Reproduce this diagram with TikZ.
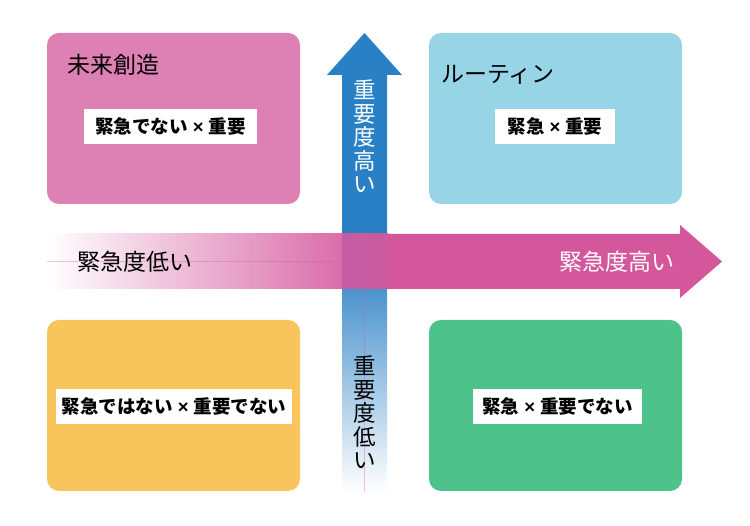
\documentclass[tikz,border=0pt]{standalone}
\usepackage{fontspec}
\setmainfont{Noto Sans CJK JP}
\newfontfamily\latinsans{Liberation Sans}
\newcommand{\qtimes}{\hspace{5pt}{\latinsans\bfseries ×}\hspace{5pt}}
\definecolor{qpink}{HTML}{DD80B4}
\definecolor{qblue}{HTML}{97D5E6}
\definecolor{qyellow}{HTML}{F8C55C}
\definecolor{qgreen}{HTML}{4DC28B}
\definecolor{arrpink}{HTML}{D4579C}
\definecolor{arrblue}{HTML}{2A80C5}
\definecolor{overlapl}{HTML}{C45DA4}
\definecolor{overlapr}{HTML}{CB5A9E}
\tikzset{
  quad/.style={rounded corners=12pt, draw=none},
  tag/.style={fill=white, inner sep=0pt, minimum height=35pt, font=\bfseries\fontsize{18.5}{20}\selectfont, text=black},
  title/.style={anchor=west, inner sep=0pt, font=\fontsize{23}{25}\selectfont, text=black},
  axislabel/.style={inner sep=0pt, font=\fontsize{23}{25}\selectfont},
  vlabel/.style={inner sep=0pt, align=center, font=\fontsize{22.5}{23.6}\selectfont},
  guide/.style={draw=arrpink, draw opacity=0.35, line width=0.6pt}
}
\begin{document}
\begin{tikzpicture}[x=1pt,y=1pt]
\useasboundingbox (0,0) rectangle (750,526);
% quadrant boxes
\fill[quad, qpink] (47,322) rectangle (300,493);
\fill[quad, qblue] (429,322) rectangle (682,493);
\fill[quad, qyellow] (47,35) rectangle (300,206);
\fill[quad, qgreen] (429,35) rectangle (682,206);
% vertical arrow
\fill[arrblue] (342,237) -- (342,451) -- (327,451) -- (364.5,493) -- (402,451) -- (387,451) -- (387,237) -- cycle;
\shade[top color=arrblue!85!white, bottom color=white] (342,34) rectangle (387,238);
\draw[guide] (364.5,237) -- (364.5,34);
% horizontal arrow
\fill[arrpink] (386,237) -- (680,237) -- (680,228) -- (722,264.5) -- (680,301) -- (680,292) -- (386,292) -- cycle;
\shade[left color=white, right color=arrpink] (47,237) rectangle (388,292);
\shade[left color=overlapl, right color=overlapr] (342,237) rectangle (387,292);
\draw[guide] (47,264.5) -- (342,264.5);
% axis labels
\node[axislabel, text=black] (ulow) at (134.5,264) {緊急度低い};
\node[axislabel, text=white] (uhigh) at (617,264) {緊急度高い};
\node[vlabel, text=white] (ihigh) at (364.5,389.5) {重\\要\\度\\高\\い};
\node[vlabel, text=black] (ilow) at (364.5,113.5) {重\\要\\度\\低\\い};
% titles
\node[title] (t1) at (67,461) {未来創造};
\node[title] (t2) at (441,451) {ルーティン};
% tags
\node[tag, minimum width=173pt] (g1) at (170.5,399.5) {緊急でない\qtimes 重要};
\node[tag, minimum width=120pt] (g2) at (555,399.5) {緊急\qtimes 重要};
\node[tag, minimum width=236pt] (g3) at (174,119.5) {緊急ではない\qtimes 重要でない};
\node[tag, minimum width=169pt] (g4) at (557.5,119.5) {緊急\qtimes 重要でない};
\end{tikzpicture}
\end{document}
